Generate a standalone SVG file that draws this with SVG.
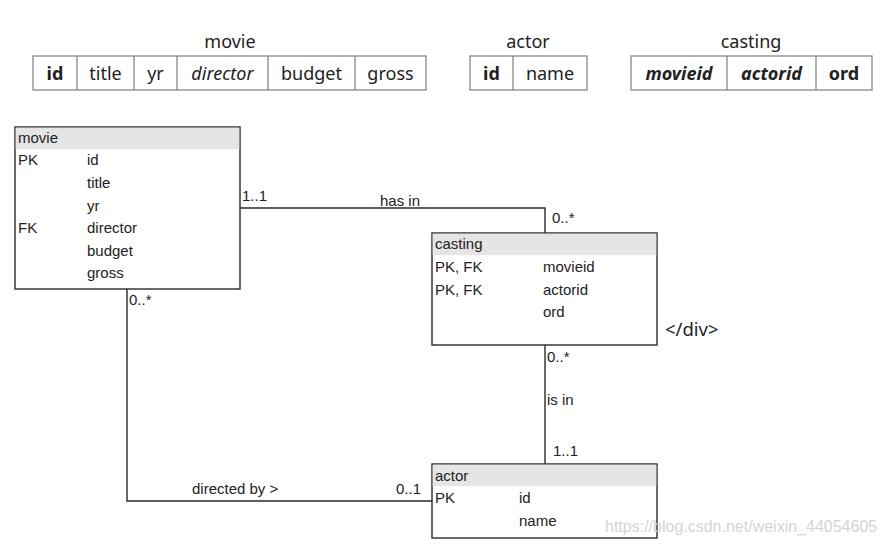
<svg xmlns="http://www.w3.org/2000/svg" width="886" height="549" viewBox="0 0 886 549">
<style>
.tt{font-family:"Noto Sans","Open Sans",sans-serif;font-size:18px;fill:#222;text-anchor:middle}
.tc{font-family:"Noto Sans","Open Sans",sans-serif;font-size:18px;fill:#222;text-anchor:middle}
.b{font-weight:bold}
.i{font-style:italic}
.cell{fill:#fff;stroke:#888;stroke-width:1.3}
.box{fill:#fff;stroke:#2a2a2a;stroke-width:1.4}
.hdr{fill:#e5e5e5}
.e{font-family:"Liberation Sans",Arial,sans-serif;font-size:15px;fill:#222}
.conn{fill:none;stroke:#2a2a2a;stroke-width:1.4}
.lbl{font-family:"Liberation Sans",Arial,sans-serif;font-size:15px;fill:#222}
</style>

<g id="tbl-movie">
<text class="tt" x="230" y="48">movie</text>
<rect class="cell" x="33" y="56" width="393" height="34"/>
<path d="M77 56V90M134 56V90M177 56V90M268 56V90M355 56V90" stroke="#888" stroke-width="1.3"/>
<text class="tc b" x="55" y="80">id</text>
<text class="tc" x="105.5" y="80">title</text>
<text class="tc" x="155.5" y="80">yr</text>
<text class="tc i" x="222.5" y="80">director</text>
<text class="tc" x="311.5" y="80">budget</text>
<text class="tc" x="390.5" y="80">gross</text>
</g>

<g id="tbl-actor">
<text class="tt" x="528" y="48">actor</text>
<rect class="cell" x="470" y="56" width="117" height="34"/>
<path d="M513 56V90" stroke="#888" stroke-width="1.3"/>
<text class="tc b" x="491.5" y="80">id</text>
<text class="tc" x="550" y="80">name</text>
</g>

<g id="tbl-casting">
<text class="tt" x="751" y="48">casting</text>
<rect class="cell" x="631" y="56" width="241" height="34"/>
<path d="M727 56V90M816 56V90" stroke="#888" stroke-width="1.3"/>
<text class="tc b i" x="679" y="80">movieid</text>
<text class="tc b i" x="771.5" y="80">actorid</text>
<text class="tc b" x="844" y="80">ord</text>
</g>

<g id="connectors">
<path class="conn" d="M240 208H545V233"/>
<path class="conn" d="M545 345V464"/>
<path class="conn" d="M127 289V501H432"/>
<text class="lbl" x="242" y="201">1..1</text>
<text class="lbl" x="380" y="206">has in</text>
<text class="lbl" x="552" y="223">0..*</text>
<text class="lbl" x="547" y="362">0..*</text>
<text class="lbl" x="547" y="405">is in</text>
<text class="lbl" x="553" y="456">1..1</text>
<text class="lbl" x="129" y="305">0..*</text>
<text class="lbl" x="192" y="494">directed by &gt;</text>
<text class="lbl" x="396" y="494">0..1</text>
</g>

<g id="er-movie">
<rect class="box" x="15" y="127" width="225" height="162"/>
<rect class="hdr" x="15.7" y="127.7" width="223.6" height="21.5"/>
<text class="e" x="18" y="143">movie</text>
<text class="e" x="18" y="165">PK</text>
<text class="e" x="87" y="165">id</text>
<text class="e" x="87" y="188">title</text>
<text class="e" x="87" y="211">yr</text>
<text class="e" x="18" y="233">FK</text>
<text class="e" x="87" y="233">director</text>
<text class="e" x="87" y="256">budget</text>
<text class="e" x="87" y="278">gross</text>
</g>

<g id="er-casting">
<rect class="box" x="432" y="233" width="225" height="112"/>
<rect class="hdr" x="432.7" y="233.7" width="223.6" height="21.5"/>
<text class="e" x="435" y="249">casting</text>
<text class="e" x="435" y="272">PK, FK</text>
<text class="e" x="543" y="272">movieid</text>
<text class="e" x="435" y="295">PK, FK</text>
<text class="e" x="543" y="295">actorid</text>
<text class="e" x="543" y="317">ord</text>
</g>

<g id="er-actor">
<rect class="box" x="432" y="464" width="225" height="74"/>
<rect class="hdr" x="432.7" y="464.7" width="223.6" height="21.5"/>
<text class="e" x="435" y="481">actor</text>
<text class="e" x="435" y="503">PK</text>
<text class="e" x="519" y="503">id</text>
<text class="e" x="519" y="526">name</text>
</g>

<text x="665" y="336" font-family="Noto Sans, Open Sans, sans-serif" font-size="18.5" fill="#222">&lt;/div&gt;</text>
<text x="605" y="532" font-family="Liberation Sans, Arial, sans-serif" font-size="16" fill="#d4d4d4">https://blog.csdn.net/weixin_44054605</text>
</svg>
